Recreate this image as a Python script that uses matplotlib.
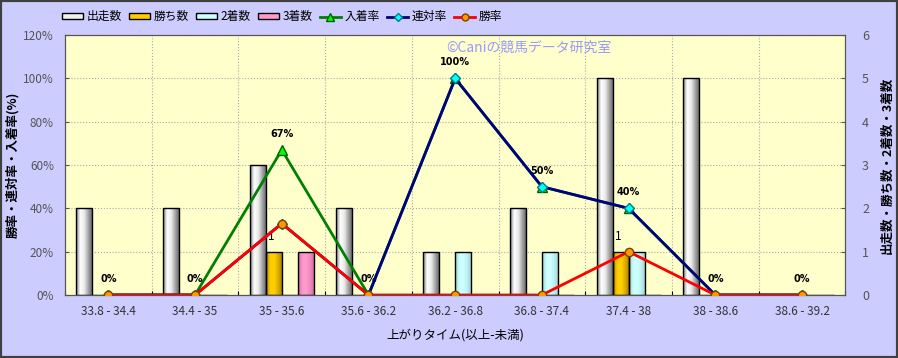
import numpy as np
import matplotlib.pyplot as plt
from matplotlib.colors import LinearSegmentedColormap
from matplotlib.patches import Rectangle, Patch
from matplotlib.lines import Line2D

plt.rcParams['font.family'] = ['Noto Sans CJK JP', 'DejaVu Sans']

categories = ['33.8 - 34.4', '34.4 - 35', '35 - 35.6', '35.6 - 36.2', '36.2 - 36.8',
              '36.8 - 37.4', '37.4 - 38', '38 - 38.6', '38.6 - 39.2']
runs = [2, 2, 3, 2, 1, 2, 5, 5, 0]
wins = [0, 0, 1, 0, 0, 0, 1, 0, 0]
seconds = [0, 0, 0, 0, 1, 1, 1, 0, 0]
thirds = [0, 0, 1, 0, 0, 0, 0, 0, 0]
place_rate = [0, 0, 67, 0, 100, 50, 40, 0, 0]
quinella_rate = [0, 0, 33, 0, 100, 50, 40, 0, 0]
win_rate = [0, 0, 33, 0, 0, 0, 20, 0, 0]

bg = '#CCCCFF'
plot_bg = '#FFFFCC'

fig = plt.figure(figsize=(8.98, 3.58), dpi=100, facecolor=bg)
fig.patches.append(Rectangle((0, 0), 1, 1, transform=fig.transFigure, fill=False,
                             edgecolor='#404040', linewidth=3))

ax2 = fig.add_axes([0.0724, 0.176, 0.869, 0.726])
ax = ax2.twinx()
ax.set_zorder(ax2.get_zorder() + 1)
ax.patch.set_visible(False)
ax2.set_facecolor(plot_bg)

x = np.arange(len(categories))
w = 0.185


def grad_bars(axis, xs, vals, colors):
    cmap = LinearSegmentedColormap.from_list('g', colors)
    grad = np.linspace(0, 1, 64).reshape(1, -1)
    bars = axis.bar(xs, vals, w, facecolor='none', edgecolor='black', linewidth=1.0, zorder=3)
    for b in bars:
        if b.get_height() <= 0:
            continue
        bx, by = b.get_x(), b.get_y()
        im = axis.imshow(grad, cmap=cmap, aspect='auto', zorder=2,
                         extent=[bx, bx + b.get_width(), by, by + b.get_height()])
        im.set_clip_path(b)
    return bars


grad_bars(ax2, x - 1.5 * w, runs, ['#808080', '#FFFFFF', '#E8E8E8', '#A0A0A0', '#606060'])
grad_bars(ax2, x - 0.5 * w, wins, ['#B08800', '#FFCC00', '#FFD000', '#D8A800', '#A07800'])
grad_bars(ax2, x + 0.5 * w, seconds, ['#99CCCC', '#CCFFFF', '#CCFFFF', '#BBEEEE', '#99CCCC'])
grad_bars(ax2, x + 1.5 * w, thirds, ['#CC6699', '#FF99CC', '#FF99CC', '#EE88BB', '#CC6699'])

for i, v in enumerate(wins):
    if v > 0:
        ax2.annotate(str(v), (x[i] - 0.5 * w, v), xytext=(-2, 6), textcoords='offset points',
                     ha='center', va='bottom', fontsize=8.5, zorder=5)

ax2.set_xlim(-0.5, len(categories) - 0.5)
ax2.set_ylim(0, 6)
ax2.set_yticks(range(7))
ax2.yaxis.tick_right()
ax2.yaxis.set_label_position('right')
ax2.set_xticks(np.arange(len(categories) + 1) - 0.5, minor=False)
ax2.set_xticklabels([])
ax2.set_xticks(x, minor=True)
ax2.set_xticklabels(categories, minor=True)
ax2.tick_params(axis='x', which='major', direction='in', length=3)
ax2.tick_params(axis='x', which='minor', length=0, labelsize=8.5, colors='#333333', pad=7)
ax2.tick_params(axis='y', direction='in', length=3, labelsize=9, colors='#555555', pad=12)
ax2.grid(True, which='major', color='#AAAAAA', linestyle=':', linewidth=0.8)
ax2.set_axisbelow(True)
ax2.set_ylabel('出走数・勝ち数・2着数・3着数', fontsize=9, fontweight='bold', labelpad=8)
ax2.set_xlabel('上がりタイム(以上-未満)', fontsize=9, labelpad=8)

ax.plot(x, place_rate, color='#008000', lw=2, marker='^', ms=7, mfc='#00FF00', mec='#006000', zorder=3)
ax.plot(x, quinella_rate, color='#000080', lw=2, marker='D', ms=5, mfc='#00FFFF', mec='#008080', zorder=4)
ax.plot(x, win_rate, color='#FF0000', lw=2, marker='o', ms=6, mfc='#FF9900', mec='#804000', zorder=5)

for i, v in enumerate(place_rate):
    ax.annotate(f'{v}%', (x[i], v), xytext=(0, 8), textcoords='offset points',
                ha='center', va='bottom', fontsize=7, fontweight='bold', family='DejaVu Sans')

ax.set_ylim(0, 120)
ax.set_yticks(range(0, 121, 20))
ax.yaxis.tick_left()
ax.yaxis.set_label_position('left')
ax.set_yticklabels([f'{v}%' for v in range(0, 121, 20)])
ax.tick_params(axis='y', direction='in', length=3, labelsize=8.5, colors='#555555', pad=8)
ax.set_ylabel('勝率・連対率・入着率(%)', fontsize=9, fontweight='bold', labelpad=3)

for a in (ax, ax2):
    for s in a.spines.values():
        s.set_color('#555555')

ax.text(0.488, 0.95, '©Caniの競馬データ研究室', transform=ax.transAxes, fontsize=10,
        color='#9999FF', ha='left', va='center')

handles = [
    Patch(facecolor='#F0F0F0', edgecolor='black', label='出走数'),
    Patch(facecolor='#FFCC00', edgecolor='black', label='勝ち数'),
    Patch(facecolor='#CCFFFF', edgecolor='black', label='2着数'),
    Patch(facecolor='#FF99CC', edgecolor='black', label='3着数'),
    Line2D([], [], color='#008000', lw=2, marker='^', ms=6, mfc='#00FF00', mec='#006000', label='入着率'),
    Line2D([], [], color='#000080', lw=2, marker='D', ms=4, mfc='#00FFFF', mec='#008080', label='連対率'),
    Line2D([], [], color='#FF0000', lw=2, marker='o', ms=5, mfc='#FF9900', mec='#804000', label='勝率'),
]
fig.legend(handles=handles, loc='center', bbox_to_anchor=(0.314, 0.953), ncol=7, frameon=False,
           fontsize=8.5, handlelength=1.8, handleheight=0.5, columnspacing=0.6, handletextpad=0.3)

fig.savefig('out.png', dpi=100, facecolor=bg)
